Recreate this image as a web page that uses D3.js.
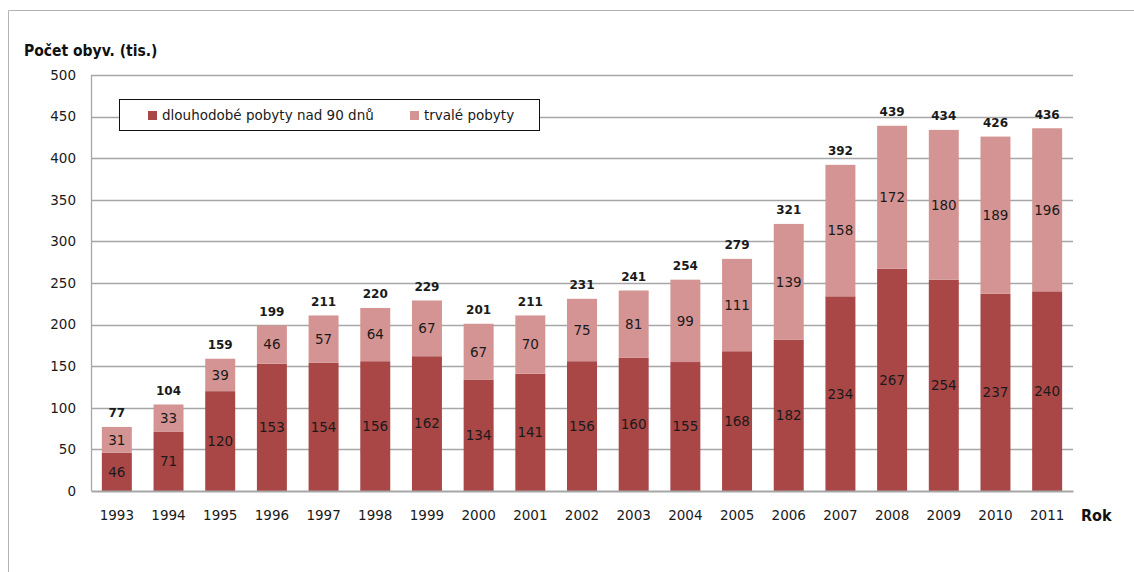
<!DOCTYPE html>
<html>
<head>
<meta charset="utf-8">
<script src="https://cdn.jsdelivr.net/npm/d3@7"></script>
<style>
  body { margin: 0; background: #fff; }
  text { font-family: "DejaVu Sans", sans-serif; }
  .axis-title { font-family: "DejaVu Sans Condensed", "DejaVu Sans", sans-serif; }
</style>
</head>
<body>
<div id="chart"></div>
<script>
// Data
const years = ['1993', '1994', '1995', '1996', '1997', '1998', '1999', '2000', '2001', '2002',
               '2003', '2004', '2005', '2006', '2007', '2008', '2009', '2010', '2011'];
const longStay = [46, 71, 120, 153, 154, 156, 162, 134, 141, 156, 160, 155, 168, 182, 234, 267, 254, 237, 240];
const permanent = [31, 33, 39, 46, 57, 64, 67, 67, 70, 75, 81, 99, 111, 139, 158, 172, 180, 189, 196];
const yTicks = [0, 50, 100, 150, 200, 250, 300, 350, 400, 450, 500];
const seriesNames = ['dlouhodobé pobyty nad 90 dnů', 'trvalé pobyty'];

const colors = ['#a94646', '#d59494'];

const dim = { width: 1134, height: 572 };
const plot = { left: 91, right: 1073, top: 75, bottom: 491 };

const rows = years.map((yr, i) => ({ year: yr, 0: longStay[i], 1: permanent[i] }));
const stacked = d3.stack().keys([0, 1])(rows);

const x = d3.scaleBand()
    .domain(years)
    .range([plot.left, plot.right])
    .paddingInner(0.42)
    .paddingOuter(0.21);

const y = d3.scaleLinear()
    .domain([0, 500])
    .range([plot.bottom, plot.top]);

const svg = d3.select('#chart')
    .append('svg')
    .attr('width', dim.width)
    .attr('height', dim.height);

// outer frame (runs off the right and bottom edge)
svg.append('path')
    .attr('d', `M8.5,${dim.height + 2} V10.5 H${dim.width + 2}`)
    .attr('fill', 'none')
    .attr('stroke', '#b4b4b4')
    .attr('stroke-width', 1);

// gridlines
svg.append('g')
    .selectAll('line')
    .data(yTicks.filter(t => t > 0))
    .join('line')
    .attr('x1', plot.left)
    .attr('x2', plot.right)
    .attr('y1', d => Math.round(y(d)) + 0.5)
    .attr('y2', d => Math.round(y(d)) + 0.5)
    .attr('stroke', '#a6a6a6')
    .attr('stroke-width', 1.3);

// y axis labels
const yAxis = svg.append('g')
    .attr('transform', `translate(${plot.left},0)`)
    .call(d3.axisLeft(y).tickValues(yTicks).tickSize(0).tickPadding(15));
yAxis.select('.domain').remove();
yAxis.selectAll('text')
    .attr('font-size', 13.5)
    .attr('fill', '#1a1a1a')
    .style('font-family', '"DejaVu Sans", sans-serif');

// bars
svg.append('g')
    .selectAll('g')
    .data(stacked)
    .join('g')
    .attr('fill', (d, i) => colors[i])
    .selectAll('rect')
    .data(d => d)
    .join('rect')
    .attr('x', d => x(d.data.year))
    .attr('y', d => y(d[1]))
    .attr('width', x.bandwidth())
    .attr('height', d => y(d[0]) - y(d[1]));

// segment labels
svg.append('g')
    .selectAll('g')
    .data(stacked)
    .join('g')
    .selectAll('text')
    .data(d => d)
    .join('text')
    .attr('x', d => x(d.data.year) + x.bandwidth() / 2)
    .attr('y', d => (y(d[0]) + y(d[1])) / 2)
    .attr('dy', '0.36em')
    .attr('text-anchor', 'middle')
    .attr('font-size', 13.5)
    .attr('fill', '#1a1a1a')
    .text(d => d[1] - d[0]);

// totals
svg.append('g')
    .selectAll('text')
    .data(stacked[1])
    .join('text')
    .attr('x', d => x(d.data.year) + x.bandwidth() / 2)
    .attr('y', d => y(d[1]) - 14)
    .attr('dy', '0.36em')
    .attr('text-anchor', 'middle')
    .attr('font-size', 12)
    .attr('font-weight', 'bold')
    .attr('fill', '#1a1a1a')
    .text(d => d[1]);

// axis lines
svg.append('line')
    .attr('x1', plot.left + 0.5).attr('x2', plot.left + 0.5)
    .attr('y1', plot.top).attr('y2', plot.bottom)
    .attr('stroke', '#a6a6a6').attr('stroke-width', 1.3);

const xAxis = svg.append('g')
    .attr('transform', `translate(0,${plot.bottom})`)
    .call(d3.axisBottom(x).tickSize(0).tickPadding(19));
xAxis.select('.domain')
    .attr('stroke', '#a6a6a6')
    .attr('stroke-width', 2);
xAxis.selectAll('text')
    .attr('font-size', 13.5)
    .attr('fill', '#1a1a1a')
    .style('font-family', '"DejaVu Sans", sans-serif');

// axis titles
svg.append('text')
    .attr('class', 'axis-title')
    .attr('x', 24)
    .attr('y', 56)
    .attr('font-size', 15.5)
    .attr('font-weight', 'bold')
    .attr('fill', '#111')
    .text('Počet obyv. (tis.)');

svg.append('text')
    .attr('class', 'axis-title')
    .attr('x', 1081)
    .attr('y', 521)
    .attr('font-size', 16)
    .attr('font-weight', 'bold')
    .attr('fill', '#111')
    .text('Rok');

// legend
const legend = svg.append('g');
legend.append('rect')
    .attr('x', 119.5)
    .attr('y', 99.5)
    .attr('width', 420)
    .attr('height', 31)
    .attr('fill', '#fff')
    .attr('stroke', '#111')
    .attr('stroke-width', 1);

const legendX = [148, 410];
const items = legend.selectAll('g')
    .data(seriesNames)
    .join('g')
    .attr('transform', (d, i) => `translate(${legendX[i]},115)`);
items.append('rect')
    .attr('x', 0).attr('y', -4)
    .attr('width', 9).attr('height', 9)
    .attr('fill', (d, i) => colors[i]);
items.append('text')
    .attr('x', 14)
    .attr('dy', '0.36em')
    .attr('font-size', 13.5)
    .attr('fill', '#1a1a1a')
    .text(d => d);
</script>
</body>
</html>
